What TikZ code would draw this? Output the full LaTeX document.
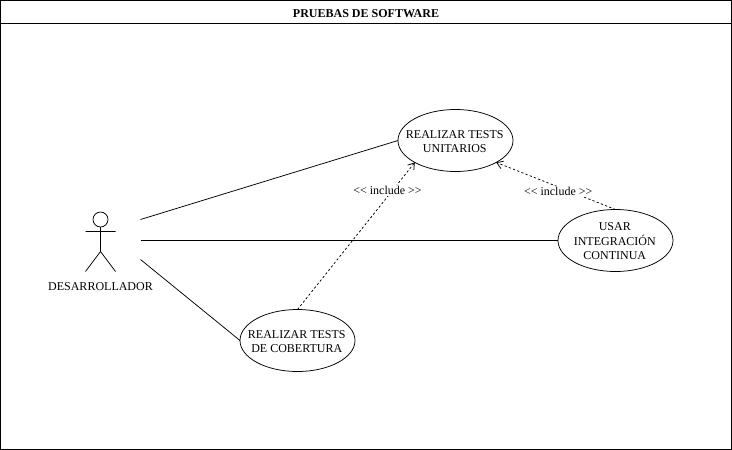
\documentclass[tikz,border=0pt]{standalone}
\usepackage{fontspec}
\setmainfont{Liberation Serif}
\usetikzlibrary{shapes.geometric,arrows.meta}
\newcommand{\uctext}[1]{\hspace*{-1.4pt}\raisebox{-1.7pt}[\height][\depth]{\begin{tabular}{@{}c@{}}#1\end{tabular}}}
\begin{document}
\begin{tikzpicture}[x=1pt,y=-1pt,line width=0.75pt,
  usecase/.style={draw,ellipse,minimum width=115pt,minimum height=62pt,inner xsep=-12pt,inner ysep=-5pt,outer sep=0pt,font=\fontsize{12}{14}\selectfont},
  lbl/.style={font=\fontsize{12}{14}\selectfont,fill=white,inner sep=1pt},
  dep/.style={dashed,dash pattern=on 2.25pt off 2.25pt,-{Straight Barb[length=6pt,width=8pt]}}]
\useasboundingbox (0,0) rectangle (732,450);
\node[draw,minimum width=731pt,minimum height=449pt,inner sep=0,outer sep=0,anchor=north west] (frame) at (0.5,0.5) {};
\coordinate (tl) at (0.5,23.5); \coordinate (tr) at (731.5,23.5);
\draw (tl) -- (tr);
\node[font=\bfseries\fontsize{12}{14}\selectfont] (title) at (366,14) {PRUEBAS DE SOFTWARE};
\node[usecase] (a) at (455.5,140.5) {\uctext{REALIZAR TESTS\\UNITARIOS}};
\node[usecase] (b) at (615.5,240.5) {\uctext{USAR\\INTEGRACIÓN\\CONTINUA}};
\node[usecase] (c) at (297.5,340.5) {\uctext{REALIZAR TESTS\\DE COBERTURA}};
\node[draw,circle,minimum size=15pt,inner sep=0,outer sep=0] (head) at (100.5,219.5) {};
\coordinate (hip) at (100.5,251.5);
\coordinate (al) at (85.5,231.5); \coordinate (ar) at (115.5,231.5);
\coordinate (ll) at (85.5,271.5); \coordinate (lr) at (115.5,271.5);
\draw (head.south) -- (hip) (al) -- (ar) (ll) -- (hip) -- (lr);
\node[font=\fontsize{12}{14}\selectfont] (actor) at (100.5,286.5) {DESARROLLADOR};
\coordinate (s1) at (140.5,219.5); \coordinate (s2) at (140.5,240.5); \coordinate (s3) at (140.5,259.5);
\draw (s1) -- (a.west);
\draw (s2) -- (b.west);
\draw (s3) -- (c.west);
\draw[dep] (c.north) -- node[lbl,pos=0.81,xshift=-5pt] {<{}< include >{}>} (a.south west);
\draw[dep] (b.north) -- node[lbl,pos=0.48,yshift=-4.5pt] {<{}< include >{}>} (a.south east);
\end{tikzpicture}
\end{document}
